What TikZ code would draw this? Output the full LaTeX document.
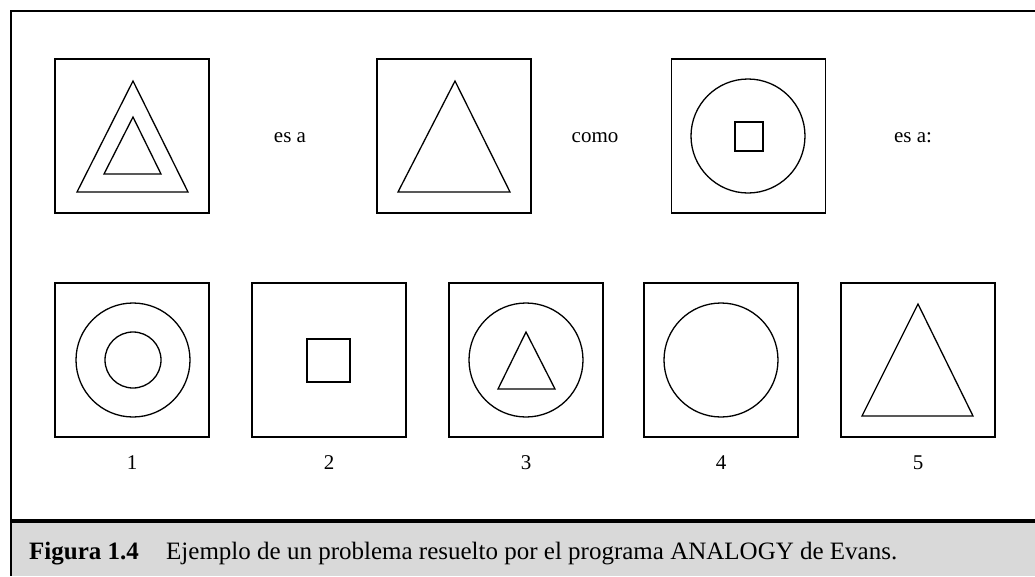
\documentclass[tikz,border=0pt]{standalone}
\usepackage{fontspec}
\setmainfont{Liberation Serif}
\definecolor{capgray}{HTML}{D9D9D9}
\begin{document}
\begin{tikzpicture}[x=1pt,y=-1pt,
  panel/.style={draw, line width=1.3pt, rectangle, minimum size=154pt, inner sep=0pt, outer sep=0pt},
  shp/.style={line width=1.3pt},
  lbl/.style={anchor=base, inner sep=0pt, font=\fontsize{21}{25}\selectfont},
  captext/.style={anchor=base west, inner sep=0pt, font=\fontsize{25}{30}\selectfont}]
\useasboundingbox (0,0) rectangle (1035,576);
% caption band
\fill[capgray] (11,523) rectangle (1035,576);
\draw[line width=1.5pt] (1035,11) -- (11,11) -- (11,576);
\draw[line width=4pt] (11,521) -- (1035,521);
% top row
\node[panel] (a) at (132,136) {};
\node[panel] (b) at (454,136) {};
\node[panel] (c) at (748.5,136) {};
\draw[shp] (133,81) -- (77,192) -- (188,192) -- cycle;
\draw[shp] (133,117) -- (104,174) -- (161,174) -- cycle;
\draw[shp] (455,81) -- (398,192) -- (510,192) -- cycle;
\draw[shp] (748,136) circle[radius=57];
\draw[shp] (735,122) rectangle (763,151);
\node[lbl] (t1) at (290,142) {es a};
\node[lbl] (t2) at (595,142) {como};
\node[lbl] (t3) at (913,142) {es a:};
% bottom row
\node[panel] (o1) at (132,360) {};
\node[panel] (o2) at (329,360) {};
\node[panel] (o3) at (526,360) {};
\node[panel] (o4) at (721,360) {};
\node[panel] (o5) at (918,360) {};
\draw[shp] (133,360) circle[radius=57];
\draw[shp] (133,360) circle[radius=28];
\draw[shp] (307,339) rectangle (350,382);
\draw[shp] (526,360) circle[radius=57];
\draw[shp] (526,332) -- (498,389) -- (555,389) -- cycle;
\draw[shp] (721,360) circle[radius=57];
\draw[shp] (918,304) -- (862,416) -- (973,416) -- cycle;
\node[lbl] (n1) at (132,469) {1};
\node[lbl] (n2) at (329,469) {2};
\node[lbl] (n3) at (526,469) {3};
\node[lbl] (n4) at (721,469) {4};
\node[lbl] (n5) at (918,469) {5};
% caption
\node[captext] (fig) at (29,559) {\bfseries Figura 1.4};
\node[captext] (txt) at (166,559) {Ejemplo de un problema resuelto por el programa ANALOGY de Evans.};
\end{tikzpicture}
\end{document}
